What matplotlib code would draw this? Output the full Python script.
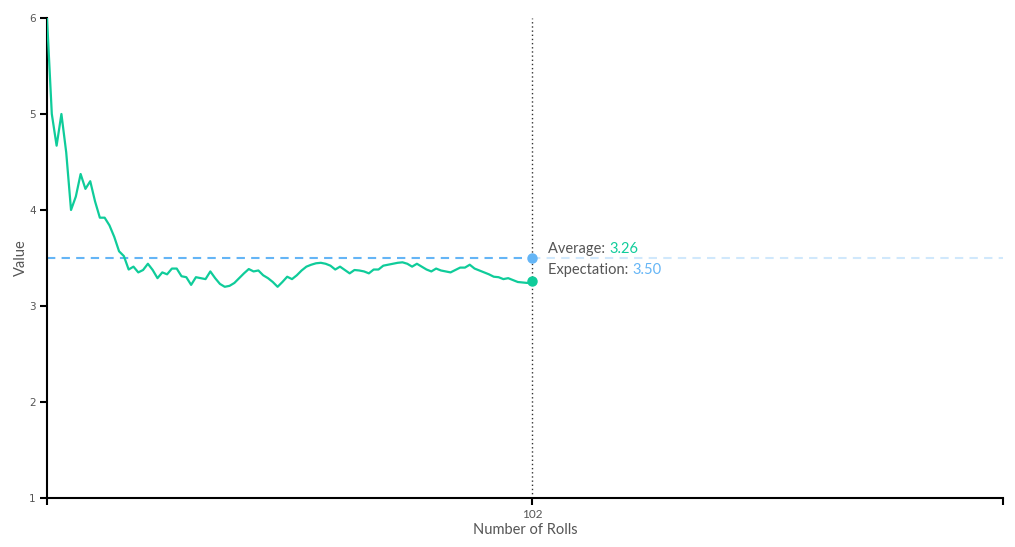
import numpy as np

import matplotlib
import matplotlib.pyplot as plt
matplotlib.use('Agg')

green_col = '#0fcc9a'
blue_col = '#64b5f6'
text_col = '#555555'

# running average of the dice rolls
averages = [
    6.0, 5.0, 4.67, 5.0, 4.6, 4.0, 4.14, 4.375, 4.22, 4.3,
    4.09, 3.92, 3.92, 3.84, 3.72, 3.57, 3.52, 3.38, 3.41, 3.35,
    3.375, 3.44, 3.375, 3.29, 3.35, 3.33, 3.39, 3.39, 3.31, 3.30,
    3.22, 3.30, 3.29, 3.28, 3.36, 3.29, 3.23, 3.20, 3.21, 3.24,
    3.29, 3.34, 3.385, 3.36, 3.37, 3.32, 3.29, 3.25, 3.20, 3.25,
    3.305, 3.28, 3.32, 3.37, 3.41, 3.43, 3.445, 3.45, 3.44, 3.42,
    3.38, 3.41, 3.375, 3.34, 3.375, 3.37, 3.36, 3.34, 3.38, 3.38,
    3.42, 3.43, 3.44, 3.45, 3.455, 3.44, 3.41, 3.44, 3.41, 3.38,
    3.36, 3.39, 3.37, 3.36, 3.35, 3.375, 3.40, 3.40, 3.43, 3.39,
    3.37, 3.35, 3.33, 3.305, 3.30, 3.28, 3.29, 3.27, 3.25, 3.245,
    3.24, 3.26,
]
expectation = 3.5
max_rolls = 200
y_ticks = [1, 2, 3, 4, 5, 6]

rolls = np.arange(1, len(averages) + 1)
n_now = rolls[-1]
avg_now = averages[-1]

fig = plt.figure(figsize=(10.15, 5.47), dpi=100)
ax = fig.add_axes([47 / 1015, 49 / 547, 956 / 1015, 480 / 547])

# expectation line, solid part up to current roll, faded beyond
ax.plot([1, n_now], [expectation, expectation], color=blue_col, lw=1.5,
        dashes=(4, 3))
ax.plot([n_now, max_rolls], [expectation, expectation], color=blue_col,
        lw=1.5, dashes=(4, 3), alpha=0.3)

# running average
ax.plot(rolls, averages, color=green_col, lw=1.6, zorder=3)

# current roll marker line
ax.axvline(n_now, color='#333333', lw=1, ls=(0, (1, 2)), zorder=1)

# dots on current values
ax.plot([n_now], [expectation], 'o', color=blue_col, ms=6.5, zorder=4)
ax.plot([n_now], [avg_now], 'o', color=green_col, ms=6.5, zorder=4)

# labels next to the dots, value part coloured
fs = 10.5
t1 = ax.annotate('Average: ', xy=(n_now, expectation), xytext=(11.5, 6.5),
                 textcoords='offset points', ha='left', va='center',
                 color=text_col, fontsize=fs, family='Lato')
ax.annotate(f'{avg_now:.2f}', xy=(1, 0), xycoords=t1, ha='left',
            va='bottom', color=green_col, fontsize=fs, family='Lato')
t2 = ax.annotate('Expectation: ', xy=(n_now, expectation), xytext=(11.5, -8.5),
                 textcoords='offset points', ha='left', va='center',
                 color=text_col, fontsize=fs, family='Lato')
ax.annotate(f'{expectation:.2f}', xy=(1, 0), xycoords=t2, ha='left',
            va='bottom', color=blue_col, fontsize=fs, family='Lato')

# axes limits and spines
ax.set_xlim(1, max_rolls)
ax.set_ylim(1, 6)
for side in ['top', 'right']:
    ax.spines[side].set_visible(False)
for side in ['left', 'bottom']:
    ax.spines[side].set_linewidth(1.5)
    ax.spines[side].set_color('black')

# ticks
ax.set_yticks(y_ticks)
ax.set_yticklabels([str(t) for t in y_ticks], color=text_col, fontsize=7.5)
ax.set_xticks([1, n_now, max_rolls])
ax.set_xticklabels(['', str(n_now), ''], color=text_col, fontsize=8.5,
                   family='Lato')
ax.tick_params(axis='both', length=5, width=1.5, color='black', pad=3)

# axis labels
ax.set_xlabel('Number of Rolls', color=text_col, fontsize=10.5, family='Lato',
              labelpad=2)
ax.set_ylabel('Value', color=text_col, fontsize=10.5, family='Lato',
              labelpad=1)

fig.savefig('out.png', dpi=100)
